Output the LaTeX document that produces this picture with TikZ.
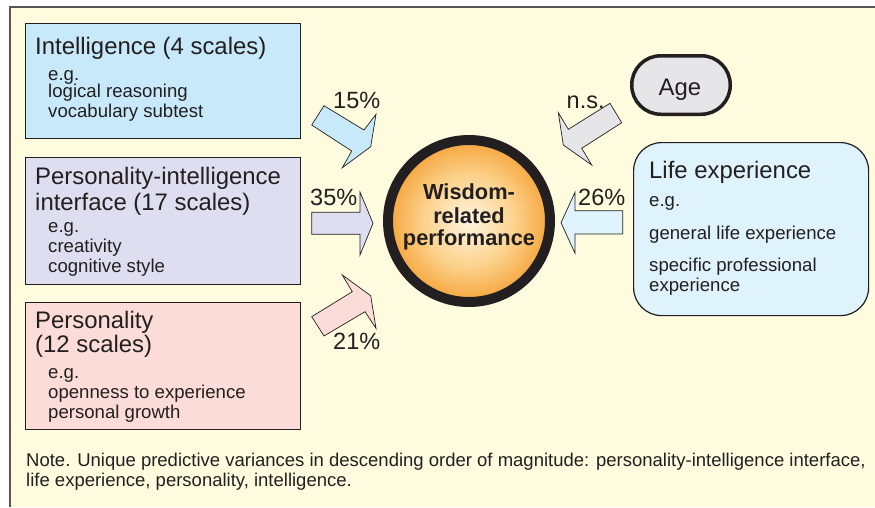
\documentclass[tikz,border=0pt]{standalone}
\usepackage{fontspec}
\setmainfont{Liberation Sans}
\definecolor{bg}{RGB}{255,251,222}
\definecolor{framec}{RGB}{85,85,85}
\definecolor{intbox}{RGB}{199,233,249}
\definecolor{pibox}{RGB}{222,222,240}
\definecolor{perbox}{RGB}{252,220,216}
\definecolor{lifebox}{RGB}{223,243,252}
\definecolor{agebox}{RGB}{230,230,232}
\definecolor{txt}{RGB}{35,31,32}
\definecolor{wca}{RGB}{255,245,226}
\definecolor{wcb}{RGB}{252,210,140}
\definecolor{wcc}{RGB}{245,165,60}
\pgfdeclareradialshading{wisdomshade}{\pgfpoint{0bp}{0bp}}{color(0bp)=(wca); color(14bp)=(wcb); color(25bp)=(wcc); color(50bp)=(wcc)}
\tikzset{
  box/.style={draw=txt, line width=1.2pt, inner sep=0pt, anchor=north west},
  ttl/.style={font=\fontsize{23.9}{26}\selectfont, text=txt, inner sep=0pt, anchor=base west},
  sub/.style={font=\fontsize{18.6}{20}\selectfont, text=txt, inner sep=0pt, anchor=base west},
  pct/.style={font=\fontsize{23.5}{26}\selectfont, text=txt, inner sep=0pt, anchor=base west},
  wis/.style={font=\fontsize{21.8}{23}\selectfont\bfseries, text=txt, inner sep=0pt, anchor=base},
  note/.style={font=\fontsize{18.5}{20}\selectfont, text=txt, inner sep=0pt, anchor=base west},
  barrow/.style={draw=txt, line width=0.7pt, line join=miter},
}
\begin{document}
\begin{tikzpicture}[x=1pt,y=-1pt]
\useasboundingbox (0,0) rectangle (875,507);
\fill[white] (0,0) rectangle (875,507);
\fill[bg] (10,7) rectangle (875,507);
\draw[framec, line width=1.5pt] (875,7) -- (10,7) -- (10,507);

% left boxes
\node[box, fill=intbox, minimum width=275pt, minimum height=115pt] (int) at (25,23) {};
\node[ttl] (intT) at (35,54) {Intelligence (4 scales)};
\node[sub] (intA) at (48,80) {e.g.};
\node[sub] (intB) at (48,97) {logical reasoning};
\node[sub] (intC) at (48,117) {vocabulary subtest};

\node[box, fill=pibox, minimum width=275pt, minimum height=127pt] (pi) at (25,157) {};
\node[ttl] (piT1) at (35,184) {Personality-intelligence};
\node[ttl] (piT2) at (35,210) {interface (17 scales)};
\node[sub] (piA) at (48,232) {e.g.};
\node[sub] (piB) at (48,252) {creativity};
\node[sub] (piC) at (48,272) {cognitive style};

\node[box, fill=perbox, minimum width=275pt, minimum height=127pt] (per) at (25,302) {};
\node[ttl] (perT1) at (35,328) {Personality};
\node[ttl] (perT2) at (35,352) {(12 scales)};
\node[sub] (perA) at (48,378) {e.g.};
\node[sub] (perB) at (48,398) {openness to experience};
\node[sub] (perC) at (48,418) {personal growth};

% center
\node[circle, minimum size=162pt, inner sep=0pt, shading=wisdomshade, draw=txt, line width=10pt] (wc) at (469,221) {};
\node[wis] (w1) at (469,199.5) {Wisdom-};
\node[wis] (w2) at (469,223) {related};
\node[wis] (w3) at (469,245) {performance};

% right side
\node[draw=txt, line width=3.5pt, fill=agebox, rounded corners=29pt, minimum width=98.5pt, minimum height=58.5pt, inner sep=0pt] (age) at (681,85) {};
\node[ttl, anchor=base] (ageT) at (680,95) {Age};

\node[box, fill=lifebox, rounded corners=28pt, minimum width=235pt, minimum height=173pt] (life) at (633,142) {};
\node[ttl] (lifeT) at (649,178.5) {Life experience};
\node[sub] (lifeA) at (649,206.5) {e.g.};
\node[sub] (lifeB) at (649,239) {general life experience};
\node[sub] (lifeC) at (649,271.5) {specific professional};
\node[sub] (lifeD) at (649,291.5) {experience};

% block arrows
\draw[barrow, fill=intbox] (324,105.7) -- (364,130) -- (376,114.3) -- (370.7,146.7) -- (342.3,167.7) -- (351.7,151) -- (311.7,125) -- cycle;
\draw[barrow, fill=pibox] (311.7,212.3) -- (360,212.3) -- (360,192) -- (373,223.3) -- (360,255) -- (360,234.3) -- (311.7,234.3) -- cycle;
\draw[barrow, fill=perbox] (342.3,275) -- (370.7,295.7) -- (376,328.3) -- (365,311.7) -- (324,336) -- (311.7,316.7) -- (352.3,291.7) -- cycle;
\draw[barrow, fill=agebox] (610,103.3) -- (621.7,122.7) -- (581.7,148.3) -- (591.7,165) -- (563.3,145) -- (558.3,112.7) -- (568.3,129.3) -- cycle;
\draw[barrow, fill=lifebox] (622.7,210.7) -- (575,210.7) -- (575,192.3) -- (561,222.7) -- (575,253.3) -- (575,234) -- (622.7,234) -- cycle;

% labels
\node[pct] (p15) at (333,108) {15\%};
\node[pct] (p35) at (310,205) {35\%};
\node[pct] (p21) at (333,349) {21\%};
\node[pct] (pns) at (566.5,108.3) {n.s.};
\node[pct] (p26) at (578,205) {26\%};

% note
\node[note] (n1) at (26,466.7) {Note. Unique predictive variances in descending order of magnitude: personality-intelligence interface,};
\node[note] (n2) at (26,486) {life experience, personality, intelligence.};
\end{tikzpicture}
\end{document}
